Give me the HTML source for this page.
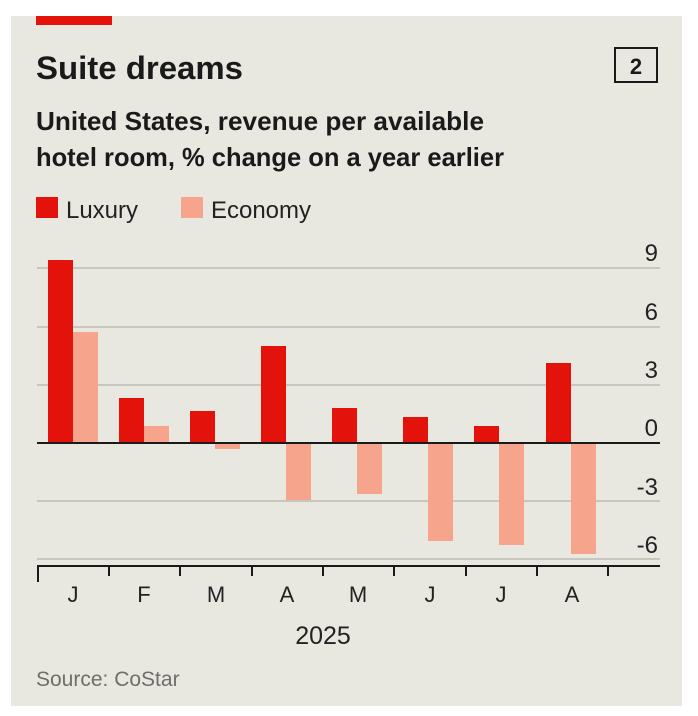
<!DOCTYPE html>
<html><head><meta charset="utf-8"><style>
html,body{margin:0;padding:0;background:#fff;}
body{width:698px;height:716px;position:relative;overflow:hidden;font-family:"Liberation Sans",sans-serif;}
.panel{position:absolute;left:11px;top:16px;width:671px;height:690px;background:#e9e8e0;}
</style></head><body>
<div class="panel"></div>
<svg width="698" height="716" style="position:absolute;left:0;top:0" font-family="Liberation Sans, sans-serif">
<rect x="36" y="16" width="76" height="9" fill="#e3120b"/>
<text x="36" y="79" font-size="32" font-weight="bold" fill="#1a1a1a" textLength="207" lengthAdjust="spacingAndGlyphs">Suite dreams</text>
<rect x="615" y="48" width="42" height="34" fill="none" stroke="#1a1a1a" stroke-width="2"/>
<text x="636" y="74" font-size="22" font-weight="bold" text-anchor="middle" fill="#1a1a1a">2</text>
<text x="36" y="130" font-size="26" font-weight="bold" fill="#1a1a1a" textLength="448" lengthAdjust="spacingAndGlyphs">United States, revenue per available</text>
<text x="36" y="166" font-size="26" font-weight="bold" fill="#1a1a1a" textLength="468" lengthAdjust="spacingAndGlyphs">hotel room, % change on a year earlier</text>
<rect x="36" y="197" width="22" height="21" fill="#e3120b"/>
<text x="66" y="218" font-size="24" fill="#222" textLength="72" lengthAdjust="spacingAndGlyphs">Luxury</text>
<rect x="181" y="197" width="22" height="21" fill="#f6a48c"/>
<text x="211" y="218" font-size="24" fill="#222" textLength="100" lengthAdjust="spacingAndGlyphs">Economy</text>
<g stroke="#bdbcb4" stroke-width="1.5">
<line x1="37" x2="660" y1="268" y2="268"/><line x1="37" x2="660" y1="327" y2="327"/>
<line x1="37" x2="660" y1="385" y2="385"/><line x1="37" x2="660" y1="501" y2="501"/>
<line x1="37" x2="660" y1="559" y2="559"/>
</g>
<g font-size="24" fill="#222" text-anchor="end">
<text x="658" y="261">9</text><text x="658" y="320">6</text><text x="658" y="378">3</text>
<text x="658" y="436">0</text><text x="658" y="495">-3</text><text x="658" y="553">-6</text>
</g>
<g fill="#e3120b">
<rect x="48" y="260" width="25" height="183"/><rect x="119" y="398" width="25" height="45"/>
<rect x="190" y="411" width="25" height="32"/><rect x="261" y="346" width="25" height="97"/>
<rect x="332" y="408" width="25" height="35"/><rect x="403" y="417" width="25" height="26"/>
<rect x="474" y="426" width="25" height="17"/><rect x="546" y="363" width="25" height="80"/>
</g>
<g fill="#f6a48c">
<rect x="73" y="332" width="25" height="111"/><rect x="144" y="426" width="25" height="17"/>
<rect x="215" y="443" width="25" height="6"/><rect x="286" y="443" width="25" height="57"/>
<rect x="357" y="443" width="25" height="51"/><rect x="428" y="443" width="25" height="98"/>
<rect x="499" y="443" width="25" height="102"/><rect x="571" y="443" width="25" height="111"/>
</g>
<line x1="37" x2="660" y1="443" y2="443" stroke="#1a1a1a" stroke-width="2"/>
<line x1="37" x2="660" y1="566" y2="566" stroke="#1a1a1a" stroke-width="2"/>
<g stroke="#1a1a1a" stroke-width="2">
<line x1="38" x2="38" y1="566" y2="582"/><line x1="109" x2="109" y1="566" y2="576"/>
<line x1="180" x2="180" y1="566" y2="576"/><line x1="252" x2="252" y1="566" y2="576"/>
<line x1="323" x2="323" y1="566" y2="576"/><line x1="394" x2="394" y1="566" y2="576"/>
<line x1="466" x2="466" y1="566" y2="576"/><line x1="537" x2="537" y1="566" y2="576"/>
<line x1="608" x2="608" y1="566" y2="576"/>
</g>
<g font-size="22" fill="#222" text-anchor="middle">
<text x="73" y="602">J</text><text x="144" y="602">F</text><text x="216" y="602">M</text>
<text x="287" y="602">A</text><text x="358" y="602">M</text><text x="430" y="602">J</text>
<text x="501" y="602">J</text><text x="572" y="602">A</text>
<text x="323" y="644" font-size="25">2025</text>
</g>
<text x="36" y="686" font-size="21" fill="#6e6e6a">Source: CoStar</text>
</svg>
</body></html>
